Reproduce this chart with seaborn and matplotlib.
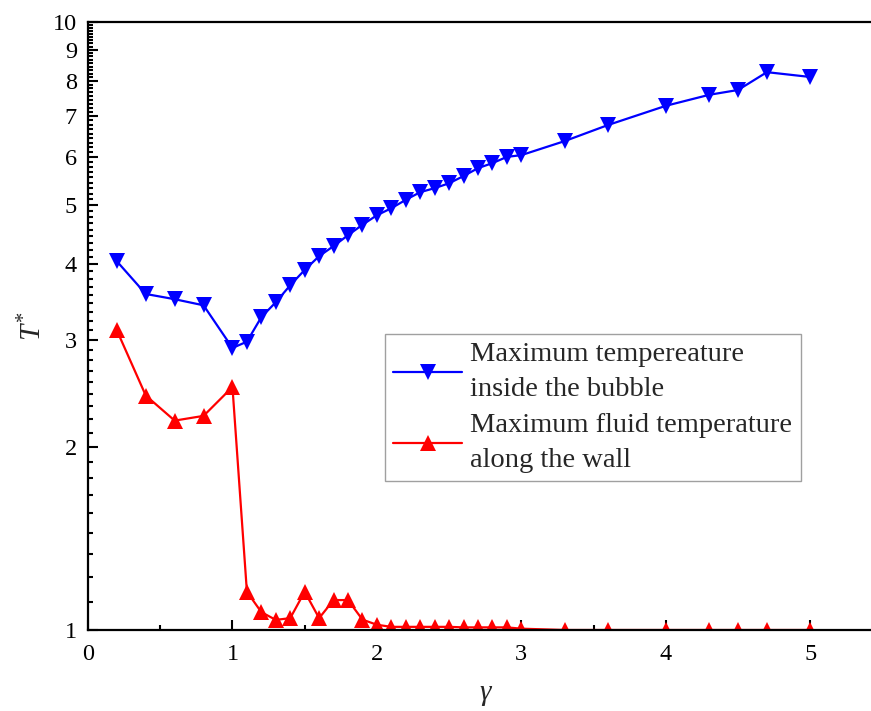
import numpy as np
import pandas as pd
import matplotlib
matplotlib.use("Agg")
import matplotlib.pyplot as plt
from matplotlib.ticker import FixedLocator, FixedFormatter
import seaborn as sns

# ---- data ----
gamma_bubble = [0.2, 0.4, 0.6, 0.8, 1.0, 1.1, 1.2, 1.3, 1.4, 1.5, 1.6, 1.7, 1.8, 1.9,
                2.0, 2.1, 2.2, 2.3, 2.4, 2.5, 2.6, 2.7, 2.8, 2.9, 3.0, 3.3, 3.6,
                4.0, 4.3, 4.5, 4.7, 5.0]
T_bubble = [4.04, 3.57, 3.50, 3.42, 2.91, 2.98, 3.27, 3.46, 3.69, 3.91, 4.12, 4.28,
            4.46, 4.64, 4.81, 4.94, 5.10, 5.25, 5.33, 5.43, 5.58, 5.75, 5.86, 6.00,
            6.04, 6.37, 6.77, 7.28, 7.59, 7.73, 8.27, 8.12]

gamma_wall = [0.2, 0.4, 0.6, 0.8, 1.0, 1.1, 1.2, 1.3, 1.4, 1.5, 1.6, 1.7, 1.8, 1.9,
              2.0, 2.1, 2.2, 2.3, 2.4, 2.5, 2.6, 2.7, 2.8, 2.9, 3.0, 3.3, 3.6,
              4.0, 4.3, 4.5, 4.7, 5.0]
T_wall = [3.11, 2.43, 2.21, 2.25, 2.51, 1.156, 1.07, 1.039, 1.046, 1.156, 1.046,
          1.12, 1.12, 1.04, 1.02, 1.012, 1.012, 1.012, 1.012, 1.012, 1.01, 1.01,
          1.01, 1.01, 1.005, 1.0, 1.0, 1.0, 1.0, 1.0, 1.0, 1.0]

label_bubble = "Maximum tempereature\ninside the bubble"
label_wall = "Maximum fluid temperature\nalong the wall"

x_ticks = [0, 1, 2, 3, 4, 5]
y_ticks = [1, 2, 3, 4, 5, 6, 7, 8, 9, 10]
y_ticklabels = ["1", "2", "3", "4", "5", "6", "7", "8", "9", "10"]

# ---- style ----
sns.set_style("ticks")
plt.rcParams['font.family'] = ['Liberation Serif', 'DejaVu Serif']
plt.rcParams['mathtext.fontset'] = 'custom'
plt.rcParams['mathtext.rm'] = 'Liberation Serif'
plt.rcParams['mathtext.it'] = 'Liberation Serif:italic'

fig = plt.figure(figsize=(8.71, 7.11), dpi=100)
W, H = 871, 711
left, right, top, bottom = 88, 882.5, 22, 630
ax = fig.add_axes([left / W, 1 - bottom / H, (right - left) / W, (bottom - top) / H])

df_b = pd.DataFrame({"gamma": gamma_bubble, "T": T_bubble})
df_w = pd.DataFrame({"gamma": gamma_wall, "T": T_wall})

sns.lineplot(data=df_b, x="gamma", y="T", ax=ax, color="#0000FF", marker="v",
             markersize=11.5, markeredgewidth=0, linewidth=1.6, label=label_bubble)
sns.lineplot(data=df_w, x="gamma", y="T", ax=ax, color="#FF0000", marker="^",
             markersize=11.5, markeredgewidth=0, linewidth=1.6, label=label_wall)

ax.set_yscale("log")
ax.set_ylim(1, 10)
ax.set_xlim(0, 5.5)

ax.yaxis.set_major_locator(FixedLocator(y_ticks))
ax.yaxis.set_major_formatter(FixedFormatter(y_ticklabels))
minor_y = [n + k / 9 for n in range(1, 10) for k in range(1, 9)]
ax.yaxis.set_minor_locator(FixedLocator(minor_y))
ax.yaxis.set_minor_formatter(FixedFormatter([""] * len(minor_y)))

ax.xaxis.set_major_locator(FixedLocator(x_ticks))
ax.xaxis.set_minor_locator(FixedLocator([0.5, 1.5, 2.5, 3.5, 4.5]))

ax.tick_params(which="both", direction="in", width=1.5, colors="black",
               labelsize=17.5)
ax.tick_params(axis="x", pad=10)
ax.tick_params(axis="y", pad=8)
ax.tick_params(which="major", length=7)
ax.tick_params(which="minor", length=3.5)
ax.tick_params(axis="y", which="both", right=False)
ax.tick_params(axis="x", which="both", top=False)

for s in ax.spines.values():
    s.set_linewidth(1.6)
    s.set_color("black")

ax.set_xlabel("γ", fontsize=21, fontstyle="italic", labelpad=11)
ax.set_ylabel(r"$T^{*}$", fontsize=21, labelpad=4)

leg = ax.legend(loc="upper left", bbox_to_anchor=(0.3737, 0.487), borderaxespad=0,
                fontsize=20.5, frameon=True, fancybox=False, shadow=False,
                handlelength=2.4, handletextpad=0.3, borderpad=0.3,
                labelspacing=0.4)
leg.get_frame().set_edgecolor("#888888")
leg.get_frame().set_linewidth(1.0)
for t in leg.get_texts():
    t.set_linespacing(1.5)

fig.savefig("out.png", dpi=100)
